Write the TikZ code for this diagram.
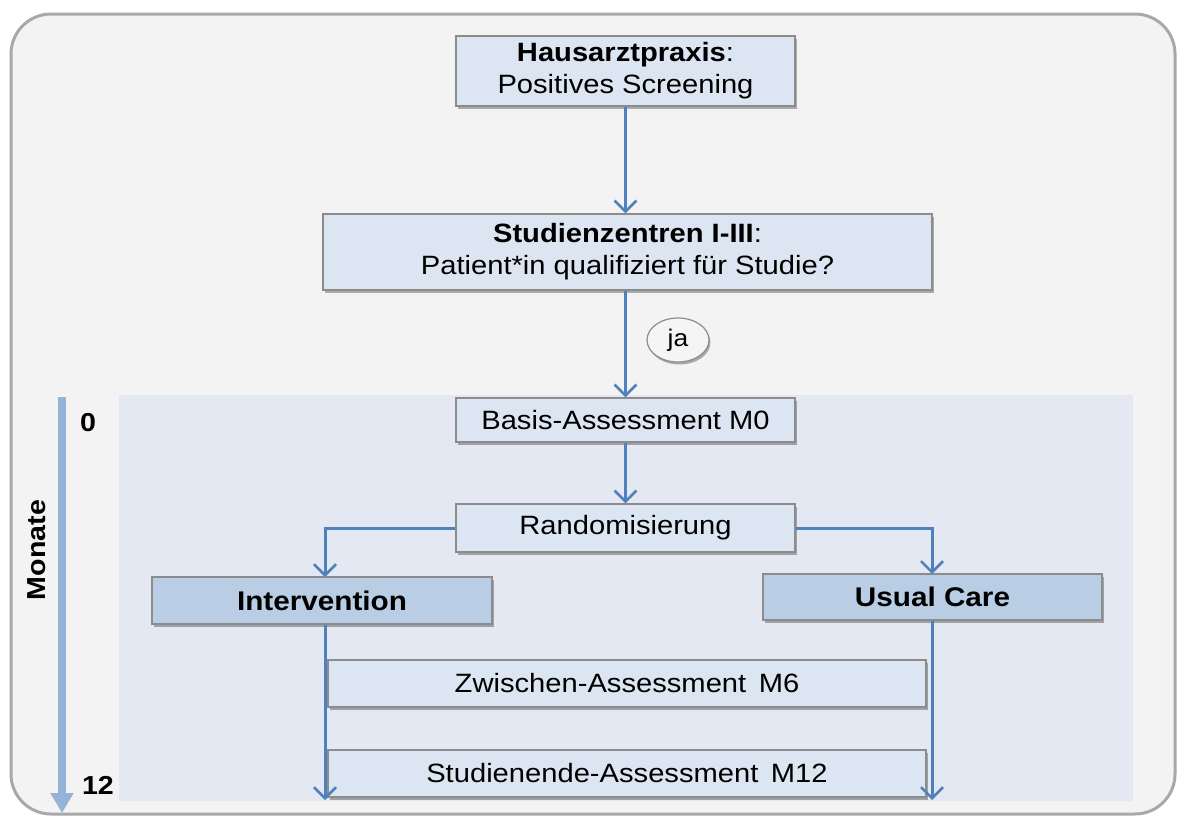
\documentclass[tikz,border=0pt]{standalone}
\usepackage{fontspec}
\setmainfont{Liberation Sans}[FakeStretch=1.1]
\usetikzlibrary{arrows.meta,shadows,shapes.geometric}
\definecolor{framefill}{HTML}{F3F3F3}
\definecolor{frameline}{HTML}{A8A8A8}
\definecolor{regionfill}{HTML}{E4E8F2}
\definecolor{boxfill}{HTML}{DCE6F2}
\definecolor{boxdark}{HTML}{B9CDE5}
\definecolor{boxline}{HTML}{8C8C8C}
\definecolor{arrowc}{HTML}{4F81BD}
\definecolor{timec}{HTML}{95B3D7}
\begin{document}
\begin{tikzpicture}[x=1pt,y=-1pt,
  lbox/.style={rectangle, draw=boxline, line width=1.3pt, fill=boxfill, inner sep=0pt,
    align=center, font=\fontsize{26.5}{32}\selectfont,
    drop shadow={shadow xshift=2pt, shadow yshift=-3pt, fill=black, opacity=0.3}},
  dbox/.style={lbox, fill=boxdark, font=\fontsize{27}{32}\selectfont\bfseries},
  conn/.style={draw=arrowc, line width=3pt, -{Straight Barb[length=11pt,width=22pt,line width=2.6pt]}},
  lbl/.style={font=\fontsize{26}{30}\selectfont\bfseries, inner sep=0pt}
]
\useasboundingbox (0,0) rectangle (1178,819);
% outer frame
\draw[draw=frameline, line width=3pt, fill=framefill, rounded corners=40pt] (11,14) rectangle (1175,814);
% region
\fill[regionfill] (119,395) rectangle (1133,801);

% nodes
\node[lbox, minimum width=339pt, minimum height=70pt] (haus) at (625.5,71)
  {\textbf{Hausarztpraxis}:\\Positives Screening};
\node[lbox, minimum width=609pt, minimum height=76pt] (studien) at (627.5,252)
  {\textbf{Studienzentren I-III}:\\Patient*in qualifiziert für Studie?};
\node[ellipse, draw=boxline, line width=1.2pt, fill=white!96!black, minimum width=62pt, minimum height=44pt,
  inner sep=0pt, font=\fontsize{24}{28}\selectfont,
  drop shadow={shadow xshift=1.5pt, shadow yshift=-2.5pt, fill=black, opacity=0.3}] (ja) at (678,340) {ja};
\node[lbox, minimum width=339pt, minimum height=44pt] (basis) at (625.5,420) {Basis-Assessment M0};
\node[lbox, minimum width=339pt, minimum height=48pt] (rando) at (625.5,528) {Randomisierung};
\node[dbox, minimum width=340pt, minimum height=47pt] (interv) at (322,600.5) {Intervention};
\node[dbox, minimum width=339pt, minimum height=46pt] (usual) at (932.5,597) {Usual Care};
\node[lbox, minimum width=598pt, minimum height=47pt] (zw) at (627,683.5) {Zwischen-Assessment\, M6};
\node[lbox, minimum width=598pt, minimum height=47pt] (ende) at (627,773.5) {Studienende-Assessment\, M12};

% connectors
\draw[conn] (haus.south) -- (haus.south |- studien.north);
\draw[conn] (studien.south -| haus.south) -- (basis.north);
\draw[conn] (basis.south) -- (rando.north);
\coordinate (il) at (325,577);
\coordinate (ul) at (932,574);
\coordinate (ie) at (325,800);
\coordinate (ue) at (932,800);
\draw[conn] (rando.west) -| (il);
\draw[conn] (rando.east) -| (ul);
\draw[conn] (il |- interv.south) -- (ie);
\draw[conn] (ul |- usual.south) -- (ue);

% timeline
\coordinate (t0) at (62,397);
\coordinate (t12) at (62,813);
\draw[draw=timec, line width=8pt, -{Triangle[width=22pt,length=20pt]}] (t0) -- (t12);
\node[lbl] (m0) at (88,423) {0};
\node[lbl] (m12) at (98,785) {12};
\node[lbl, rotate=90] (monate) at (37,550) {Monate};
\end{tikzpicture}
\end{document}
